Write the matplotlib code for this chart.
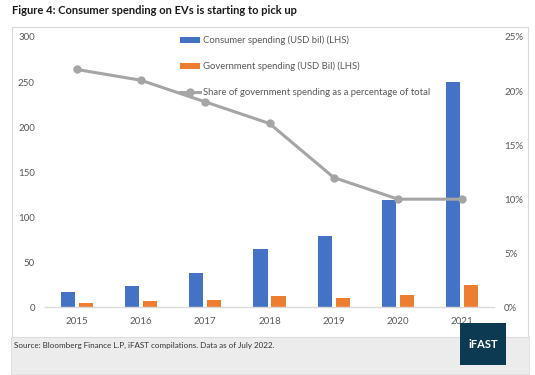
import matplotlib.pyplot as plt
from matplotlib.patches import Rectangle
from matplotlib.ticker import PercentFormatter
import numpy as np

plt.rcParams['font.family'] = ['Lato', 'DejaVu Sans']

# data
years = ["2015", "2016", "2017", "2018", "2019", "2020", "2021"]
consumer = [17, 24, 38, 65, 79, 119, 250]
government = [4.5, 6.5, 8.5, 12.5, 10.5, 13.5, 24.5]
gov_share = [22, 21, 19, 17, 12, 10, 10]

W, H = 535, 375
fig = plt.figure(figsize=(W / 100, H / 100), dpi=100)

def fx(px):
    return px / W

def fy(py):
    return 1 - py / H

# chart border and grey source band
fig.patches.append(Rectangle((fx(12), fy(337)), fx(516), 310 / H, transform=fig.transFigure,
                             facecolor='none', edgecolor='#d9d9d9', lw=0.8, zorder=0))
fig.patches.append(Rectangle((fx(11), fy(374)), fx(518), 37 / H, transform=fig.transFigure,
                             facecolor='#ececec', edgecolor='#dcdcdc', lw=0.6, zorder=0))

ax = fig.add_axes([fx(44.5), fy(307.3), fx(450), 270.3 / H], zorder=1)
ax.patch.set_alpha(0)
x = np.arange(len(years))
bw = 0.22
b1 = ax.bar(x - 0.14, consumer, bw, color='#4472c4', label='Consumer spending (USD bil) (LHS)', zorder=2)
b2 = ax.bar(x + 0.14, government, bw, color='#ed7d31', label='Government spending (USD Bil) (LHS)', zorder=2)
ax.set_xlim(-0.5, len(years) - 0.5)
ax.set_ylim(0, 300)
ax.set_yticks(range(0, 301, 50))
ax.set_xticks(x)
ax.set_xticklabels(years)
for s in ['top', 'left', 'right']:
    ax.spines[s].set_visible(False)
ax.spines['bottom'].set_color('#d9d9d9')
ax.spines['bottom'].set_linewidth(1.0)
ax.tick_params(length=0, labelsize=7, labelcolor='#595959')
ax.tick_params(axis='x', pad=7)
ax.tick_params(axis='y', pad=7)

ax2 = ax.twinx()
ln, = ax2.plot(x, gov_share, color='#a5a5a5', lw=2.2, marker='o', ms=5,
               label='Share of government spending as a percentage of total', zorder=3)
ax2.set_ylim(0, 25)
ax2.set_yticks(range(0, 26, 5))
ax2.yaxis.set_major_formatter(PercentFormatter(decimals=0))
for s in ['top', 'left', 'right', 'bottom']:
    ax2.spines[s].set_visible(False)
ax2.tick_params(length=0, labelsize=7, labelcolor='#595959', pad=7)

fig.legend(handles=[b1, b2, ln], loc='upper left', bbox_to_anchor=(fx(176), fy(32)),
           frameon=False, fontsize=6.8, labelcolor='#595959', labelspacing=1.75,
           handlelength=2.15, handletextpad=0.3, borderaxespad=0)

fig.text(fx(12), fy(10), "Figure 4: Consumer spending on EVs is starting to pick up",
         fontsize=8, fontweight='bold', color='#1a1a1a', va='center', ha='left')
fig.text(fx(14), fy(345), "Source: Bloomberg Finance L.P, iFAST compilations. Data as of July 2022.",
         fontsize=5.8, color='#333333', va='center', ha='left')

# logo box
fig.patches.append(Rectangle((fx(460), fy(365)), fx(46), 42 / H, transform=fig.transFigure,
                             facecolor='#0b3a52', edgecolor='none', zorder=5))
fig.text(fx(483), fy(344), "iFAST", fontsize=8, fontweight='bold', color='white',
         ha='center', va='center', zorder=6)

fig.savefig('out.png', dpi=100)
